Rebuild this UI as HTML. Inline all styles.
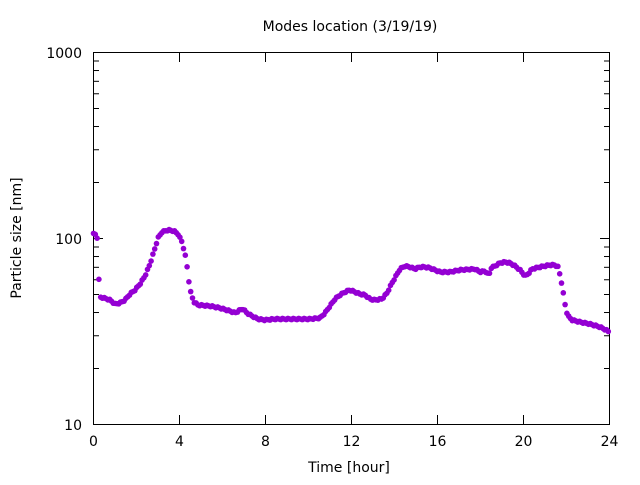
<!DOCTYPE html>
<html><head><meta charset="utf-8"><style>
html,body{margin:0;padding:0;background:#fff;}
svg text{font-family:"DejaVu Sans","Liberation Sans",sans-serif;font-size:14px;fill:#000;}
</style></head><body>
<svg id="s" width="640" height="480" viewBox="0 0 640 480" xmlns="http://www.w3.org/2000/svg">
<rect width="640" height="480" fill="#fff"/>
<g id="ticks" stroke="#000" stroke-width="1"></g>
<rect x="93.5" y="52.5" width="516" height="372" fill="none" stroke="#000" stroke-width="1"/>
<text x="350" y="31" text-anchor="middle">Modes location (3/19/19)</text>
<text x="349" y="472" text-anchor="middle">Time [hour]</text>
<text transform="translate(21,238) rotate(-90)" text-anchor="middle">Particle size [nm]</text>
<text x="82" y="58" text-anchor="end">1000</text>
<text x="82" y="244" text-anchor="end">100</text>
<text x="82" y="430" text-anchor="end">10</text>
<g id="xl"></g>
<g id="pts" fill="#9400d3"></g>
</svg>
<script>
var NS="http://www.w3.org/2000/svg";
function el(t,a,p){var e=document.createElementNS(NS,t);for(var k in a)e.setAttribute(k,a[k]);p.appendChild(e);return e;}
var tk=document.getElementById("ticks"),xl=document.getElementById("xl");
for(var h=0;h<=24;h+=4){var x=93.5+h*21.5;
 el("line",{x1:x,y1:424,x2:x,y2:415},tk);el("line",{x1:x,y1:53,x2:x,y2:62},tk);
 var t=el("text",{x:x,y:446,"text-anchor":"middle"},xl);t.textContent=h;}
for(var d=0;d<2;d++)for(var m=1;m<=10;m++){var y=424.5-186*(d+Math.log10(m));
 var L=(m==1||m==10)?9:5;
 el("line",{x1:94,y1:y,x2:94+L,y2:y},tk);el("line",{x1:609,y1:y,x2:609-L,y2:y},tk);}
var K=[[93,234],[95,234],[97,236],[98,252],[99,283],[100,297],[104,298],[110,300],[115,304],[120,303],[125,300],[130,294],[135,290],[140,284],[145,276],[150,264],[155,248],[158,238],[162,232],[168,230],[174,231],[178,234],[182,242],[185,254],[187,266],[189,282],[191,294],[194,302],[198,305],[210,306],[220,308],[230,311],[235,313],[240,310],[243,309],[247,313],[252,316],[258,319],[265,320],[275,319],[290,319],[310,319],[320,318],[325,313],[330,306],[335,299],[340,295],[345,292],[350,290],[355,292],[360,294],[365,295],[370,299],[375,300],[382,299],[387,293],[392,283],[396,276],[400,269],[405,266],[410,267],[415,269],[420,267],[425,267],[430,268],[435,270],[440,272],[450,272],[460,270],[475,269],[480,272],[485,271],[489,275],[491,268],[495,266],[500,263],[505,262],[510,263],[515,266],[520,270],[525,276],[528,274],[532,269],[540,267],[545,266],[550,265],[555,265],[558,267],[560,275],[562,285],[564,298],[566,310],[568,316],[572,320],[580,322],[590,324],[600,327],[606,330],[609,332]];
var P=document.getElementById("pts");
var n=0;
for(var x=93.5;x<=609;x+=1.8){
 var i=0;while(i<K.length-2&&K[i+1][0]<x)i++;
 var a=K[i],b=K[i+1],f=(x-a[0])/(b[0]-a[0]);if(f>1)f=1;
 var y=a[1]+(b[1]-a[1])*f+((n++%3)-1)*0.6;
 el("circle",{cx:x,cy:y,r:2.8},P);}
</script>
</body></html>
